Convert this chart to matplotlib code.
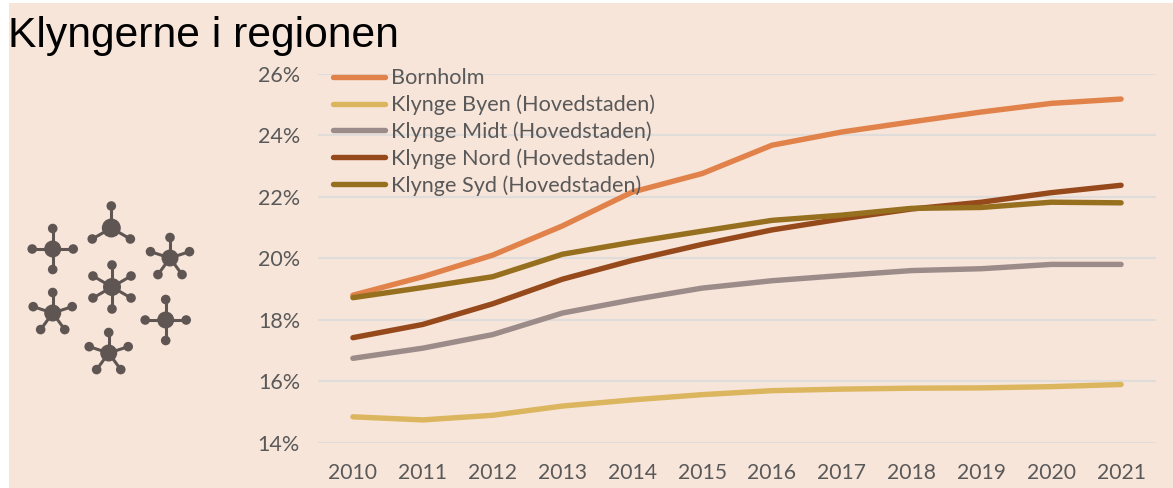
import numpy as np
import matplotlib
matplotlib.use('Agg')
import matplotlib.pyplot as plt

W, H = 1173, 488
BG = '#f8e5da'
TXT = '#595959'
ICON = '#5f5653'

years = [2010, 2011, 2012, 2013, 2014, 2015, 2016, 2017, 2018, 2019, 2020, 2021]
bornholm = [18.8, 19.4, 20.1, 21.05, 22.15, 22.75, 23.67, 24.1, 24.43, 24.75, 25.03, 25.17]
byen = [14.85, 14.75, 14.9, 15.2, 15.4, 15.57, 15.7, 15.75, 15.78, 15.79, 15.83, 15.9]
midt = [16.75, 17.08, 17.52, 18.22, 18.65, 19.03, 19.27, 19.44, 19.6, 19.66, 19.8, 19.8]
nord = [17.42, 17.85, 18.52, 19.32, 19.93, 20.45, 20.92, 21.28, 21.6, 21.82, 22.13, 22.37]
syd = [18.72, 19.05, 19.4, 20.13, 20.52, 20.88, 21.23, 21.4, 21.62, 21.65, 21.82, 21.8]

labels = ['Bornholm', 'Klynge Byen (Hovedstaden)', 'Klynge Midt (Hovedstaden)',
          'Klynge Nord (Hovedstaden)', 'Klynge Syd (Hovedstaden)']
series = [bornholm, byen, midt, nord, syd]
colors = ['#e08249', '#dcb55f', '#9c8c89', '#964a1b', '#96701f']
yticks = [14, 16, 18, 20, 22, 24, 26]

# icon: center x, center y, arm count, arm length, hub radius, satellite radius
icons = [(52.7, 249, 4, 20.5, 8.5, 4.8), (111.3, 228, 3, 22, 9.5, 4.8), (170, 258, 5, 20.5, 8.5, 4.8),
         (112, 287, 6, 22, 9, 4.8), (52.7, 313, 5, 20.5, 8.5, 4.8), (165.7, 320, 4, 20.5, 8.5, 4.8),
         (108.7, 353, 5, 20.5, 8.5, 4.8)]

fig = plt.figure(figsize=(W / 100, H / 100), dpi=100, facecolor='white')

# backdrop in pixel coordinates
bg = fig.add_axes([0, 0, 1, 1])
bg.set_xlim(0, W)
bg.set_ylim(H, 0)
bg.axis('off')
bg.add_patch(plt.Rectangle((9, 3), W - 9, H - 3, color=BG, lw=0))
bg.text(8, 36, 'Klyngerne i regionen', fontsize=30.7, family='Liberation Sans',
        color='black', va='center', ha='left')

for cx, cy, n, arm, hub, sat in icons:
    for k in range(n):
        a = np.pi * 2 * k / n
        px, py = cx + arm * np.sin(a), cy - arm * np.cos(a)
        bg.plot([cx, px], [cy, py], color=ICON, lw=2.2, zorder=2)
        bg.add_patch(plt.Circle((px, py), sat, color=ICON, lw=0, zorder=3))
    bg.add_patch(plt.Circle((cx, cy), hub, color=ICON, lw=0, zorder=3))

# chart area: gridlines span 318-1156 px, 26% at y=73.5 and 14% at y=443
ax = fig.add_axes([318 / W, 1 - 443 / H, 838 / W, 369.5 / H])
ax.patch.set_alpha(0)
x = np.arange(len(years))
for s, lab, c in zip(series, labels, colors):
    ax.plot(x, s, color=c, lw=3.9, label=lab, solid_capstyle='round', solid_joinstyle='round', zorder=3)

ax.set_xlim(-0.5, len(years) - 0.5)
ax.set_ylim(14, 26)
ax.set_xticks(x)
ax.set_xticklabels(years)
ax.set_yticks(yticks)
ax.set_yticklabels([f'{v}%' for v in yticks])
ax.tick_params(axis='x', length=0, labelsize=15.2, labelcolor=TXT, pad=14.5)
ax.tick_params(axis='y', length=0, labelsize=15.5, labelcolor=TXT, pad=13)
for t in ax.get_xticklabels() + ax.get_yticklabels():
    t.set_family('Lato')
ax.grid(axis='y', color='#e0dcd9', lw=1.6, zorder=1)
ax.set_axisbelow(True)
for sp in ax.spines.values():
    sp.set_visible(False)

leg = ax.legend(loc='upper left', bbox_to_anchor=(0.0175, 1.014), frameon=False, ncol=1,
                prop={'family': 'Lato', 'size': 15.6}, labelcolor=TXT, handlelength=2.42,
                handletextpad=0.25, labelspacing=0.29, borderpad=0, borderaxespad=0)

fig.savefig('out.png', dpi=100, facecolor='white')
